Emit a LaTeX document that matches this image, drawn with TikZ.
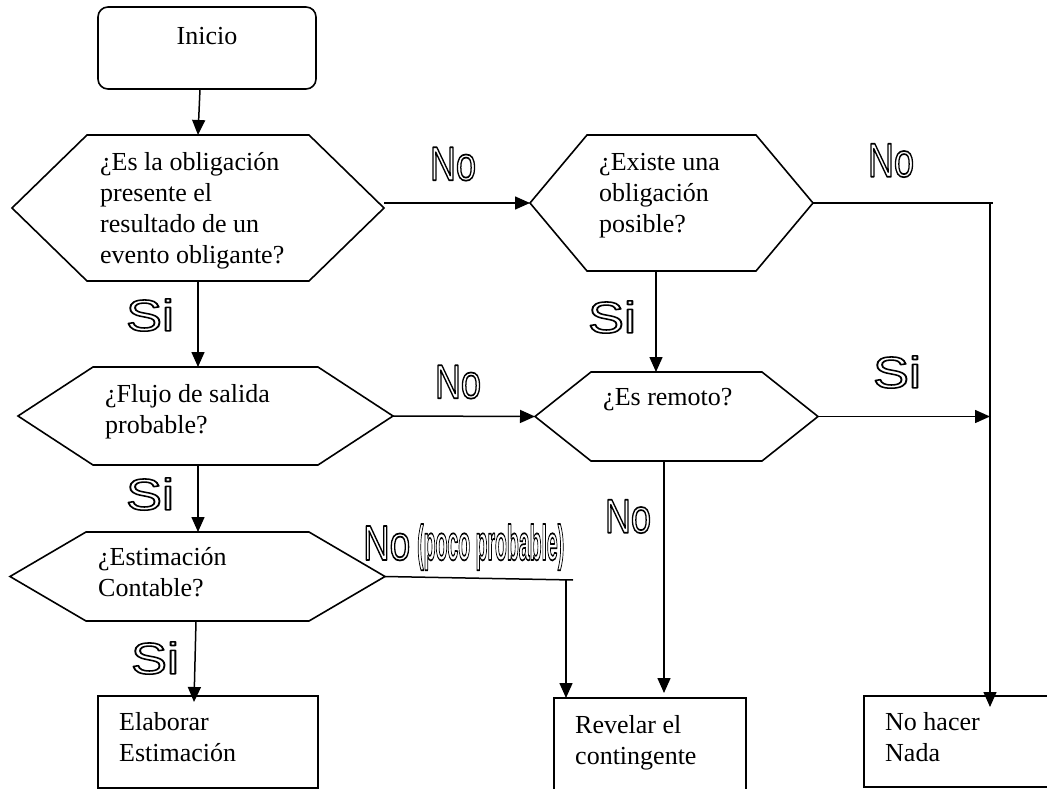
\documentclass[tikz,border=0pt]{standalone}
\usepackage{fontspec}
\setmainfont{Liberation Serif}
\newfontfamily\labfont{Liberation Sans}
\usepackage{graphicx}
\usetikzlibrary{arrows.meta,calc}
\newcommand\outl[1]{\special{pdf:literal direct 1 Tr 1.4 w 1 j}#1\special{pdf:literal direct 0 Tr}}
\newcommand\lNo{\outl{\resizebox{46pt}{33pt}{No}}}
\newcommand\lSi{\outl{\resizebox{48pt}{32pt}{Si}}}
\newcommand\hexo[2]{\draw[line width=1.6pt] (#1.west) -- ([xshift=#2]#1.north west) -- ([xshift=-#2]#1.north east) -- (#1.east) -- ([xshift=-#2]#1.south east) -- ([xshift=#2]#1.south west) -- cycle;}
\begin{document}
\begin{tikzpicture}[x=1pt,y=-1pt,line join=miter,
  hexn/.style={inner sep=0pt,outer sep=0pt,draw=none},
  boxn/.style={draw,line width=1.6pt,inner sep=0pt,outer sep=0pt},
  txt/.style={anchor=base west,align=left,inner sep=0pt,font=\fontsize{26}{31}\selectfont},
  conn/.style={line width=1.5pt},
  arr/.style={conn,-{Triangle[length=15pt,width=13pt]}},
  lbl/.style={inner sep=0pt,font=\labfont\fontsize{40}{40}\selectfont}]
\useasboundingbox (0,0) rectangle (1047,789);
% shapes
\node[boxn,rounded corners=10pt,minimum width=218pt,minimum height=82pt,inner ysep=10pt,text height=28pt,text depth=34pt,font=\fontsize{26}{31}\selectfont] (start) at (207,48) {Inicio};
\node[hexn,minimum width=372pt,minimum height=146pt] (h1) at (198,208) {};
\node[hexn,minimum width=283pt,minimum height=136pt] (h2) at (671.5,203) {};
\node[hexn,minimum width=375pt,minimum height=98pt] (h3) at (205.5,416) {};
\node[hexn,minimum width=283pt,minimum height=89pt] (h4) at (676.5,416.5) {};
\node[hexn,minimum width=375pt,minimum height=89pt] (h5) at (197.5,576.5) {};
\hexo{h1}{75pt}
\hexo{h2}{57pt}
\hexo{h3}{75pt}
\hexo{h4}{56pt}
\hexo{h5}{76pt}
\node[boxn,minimum width=220pt,minimum height=92pt] (elab) at (208,742) {};
\node[boxn,minimum width=192pt,minimum height=102pt] (rev) at (650,749) {};
\node[boxn,minimum width=196pt,minimum height=91pt] (nada) at (962,741.5) {};
% texts (anchored at the baseline of their last line)
\node[txt] (t1) at (100,263) {¿Es la obligación\\presente el\\resultado de un\\evento obligante?};
\node[txt] (t2) at (599,232) {¿Existe una\\obligación\\posible?};
\node[txt] (t3) at (105,433) {¿Flujo de salida\\probable?};
\node[txt] (t4) at (603,405) {¿Es remoto?};
\node[txt] (t5) at (98,596) {¿Estimación\\Contable?};
\node[txt] (t6) at (119,761) {Elaborar\\Estimación};
\node[txt] (t7) at (575,764) {Revelar el\\contingente};
\node[txt] (t8) at (885,761) {No hacer\\Nada};
% helper coordinates
\coordinate (c1) at (198,0);
\coordinate (c2) at (656,0);
\coordinate (k) at (990,0);
\coordinate (c3) at (566,580);
\coordinate (c4) at (664,0);
% connectors
\draw[arr] ([xshift=-7pt]start.south) -- (h1.north);
\draw[arr] (h1.east |- h2.west) -- (h2.west);
\draw[arr] (c1 |- h1.south) -- (c1 |- h3.north);
\draw[arr] (c2 |- h2.south) -- (c2 |- h4.north);
\draw[conn] (h2.east) -- ++(180,0);
\draw[arr] (k |- h2.east) -- ($(k |- nada.north)+(0,11)$);
\draw[arr] (h3.east) -- (h4.west);
\draw[arr] (h4.east) -- (k |- h4.east);
\draw[arr] (c1 |- h3.south) -- (c1 |- h5.north);
\draw[conn] (h5.east) -- ($(c3)+(7,0)$);
\draw[arr] (c3) -- (c3 |- rev.north);
\draw[arr] (c4 |- h4.south) -- ($(c4 |- rev.north)+(0,-5)$);
\draw[arr] ([xshift=-1.5pt]h5.south) -- ($(elab.north)+(-14,6)$);
% labels
\node[lbl] (n1) at (453,164) {\lNo};
\node[lbl] (n2) at (891,160.5) {\lNo};
\node[lbl] (n3) at (458,382) {\lNo};
\node[lbl] (n4) at (628,516.5) {\lNo};
\node[lbl,anchor=base west] (n5) at (363,560) {\outl{\resizebox{47pt}{34pt}{No}}\hspace{7pt}\outl{\resizebox{147pt}{36pt}{\bfseries(poco probable)}}};
\node[lbl] (s1) at (150,315) {\lSi};
\node[lbl] (s2) at (150,494) {\lSi};
\node[lbl] (s3) at (155,658) {\lSi};
\node[lbl] (s4) at (612,317) {\lSi};
\node[lbl] (s5) at (897,372) {\lSi};
\end{tikzpicture}
\end{document}
